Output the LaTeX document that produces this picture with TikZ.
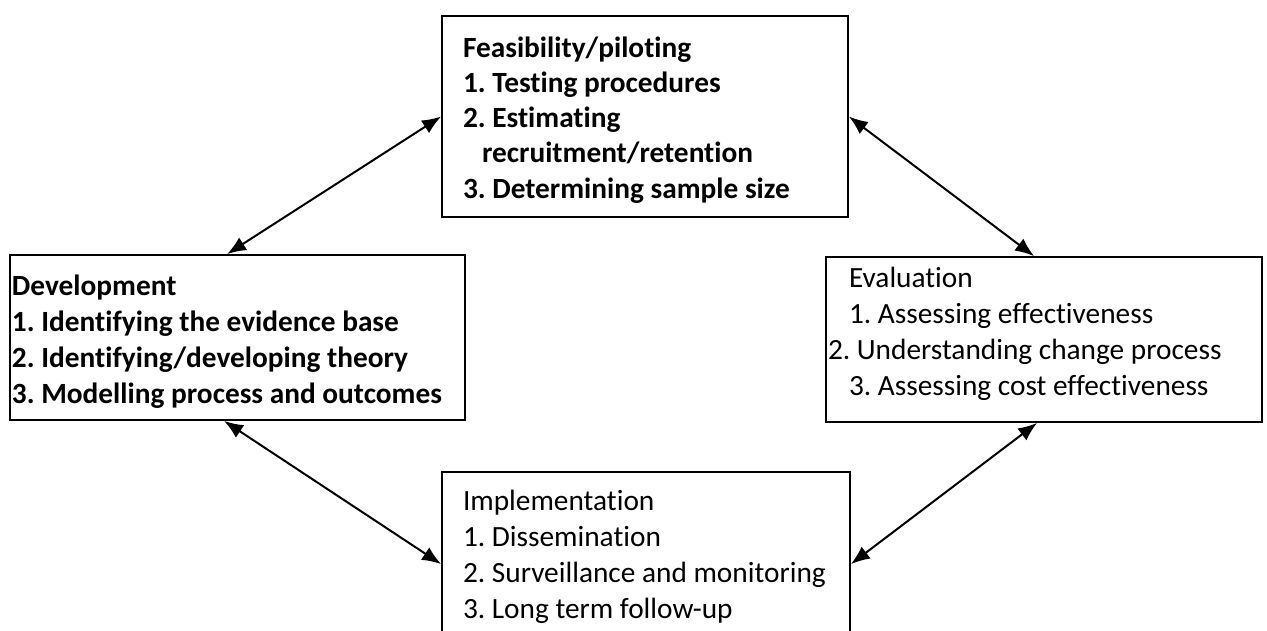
\documentclass[tikz,border=0pt]{standalone}
\usepackage{fontspec}
\setmainfont{Carlito}[Ligatures=NoCommon]
\frenchspacing
\usetikzlibrary{arrows.meta}
\tikzset{
  box/.style={draw=black, line width=1.8pt, rectangle, inner sep=0pt, fill=none},
  conn/.style={line width=2pt, {Latex[length=19pt,width=15pt]}-{Latex[length=19pt,width=15pt]}},
  txt/.style={anchor=base west, inner sep=0pt, outer sep=0pt, font=\fontsize{29.33}{36}\selectfont\frenchspacing},
  txttop/.style={anchor=base west, inner sep=0pt, outer sep=0pt, font=\fontsize{29.33}{35.3}\selectfont\frenchspacing}
}
\begin{document}
\begin{tikzpicture}[x=1pt,y=-1pt]
\useasboundingbox (0,0) rectangle (1267,630);
\fill[white] (0,0) rectangle (1267,630);
\clip (0,0) rectangle (1267,630);
% boxes
\node[box, minimum width=406pt, minimum height=201pt] (feas) at (645,116.5) {};
\node[box, minimum width=455pt, minimum height=165pt] (dev) at (237.5,337.5) {};
\node[box, minimum width=436pt, minimum height=165pt] (eval) at (1044,339.5) {};
\node[box, minimum width=408pt, minimum height=178pt] (impl) at (646,561) {};
% texts
\node[txttop] (feastext) at (463,57) {\bfseries\begin{tabular}[t]{@{}l@{}}
Feasibility/piloting\\
1. Testing procedures\\
2. Estimating\\
\hspace*{19pt}recruitment/retention\\
3. Determining sample size
\end{tabular}};
\node[txt] (devtext) at (12,295) {\bfseries\begin{tabular}[t]{@{}l@{}}
Development\\
1. Identifying the evidence base\\
2. Identifying/developing theory\\
3. Modelling process and outcomes
\end{tabular}};
\node[txt] (evaltext) at (828,287) {\begin{tabular}[t]{@{}l@{}}
\hspace*{21pt}Evaluation\\
\hspace*{21pt}1. Assessing effectiveness\\
2. Understanding change process\\
\hspace*{21pt}3. Assessing cost effectiveness
\end{tabular}};
\node[txt] (impltext) at (463,510) {\begin{tabular}[t]{@{}l@{}}
Implementation\\
1. Dissemination\\
2. Surveillance and monitoring\\
3. Long term follow-up
\end{tabular}};
% connectors
\draw[conn] (feas.west) -- ([xshift=218pt]dev.north west);
\draw[conn] (feas.east) -- ([xshift=209pt]eval.north west);
\draw[conn] ([xshift=215pt]dev.south west) -- ([yshift=-93pt]impl.north west);
\draw[conn] ([xshift=212pt]eval.south west) -- ([yshift=-93pt]impl.north east);
\end{tikzpicture}
\end{document}
